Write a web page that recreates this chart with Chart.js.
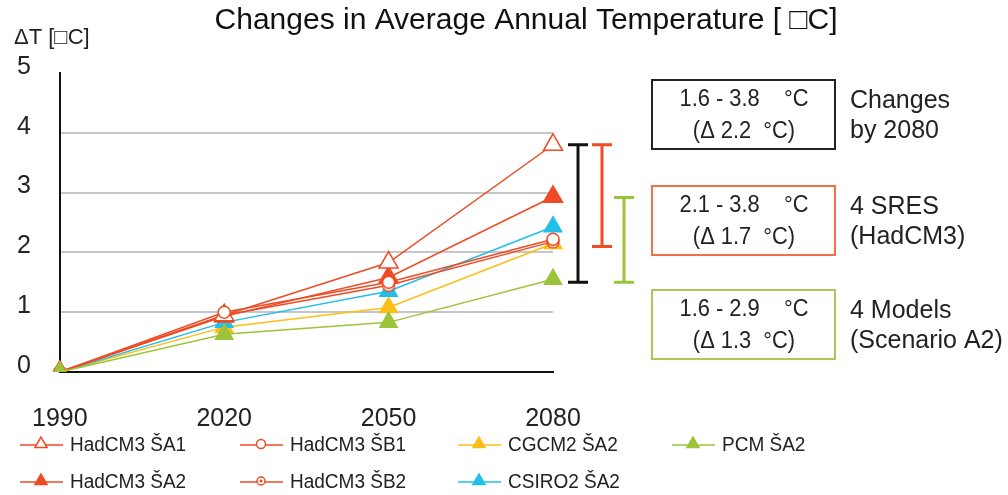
<!DOCTYPE html>
<html>
<head>
<meta charset="utf-8">
<script src="https://cdn.jsdelivr.net/npm/chart.js@4.4.0/dist/chart.umd.min.js"></script>
<style>
    html, body { margin: 0; padding: 0; background: #fff; }
</style>
</head>
<body>
<canvas id="myChart" width="1008" height="495"></canvas>
<script>
// data
const years = ['1990', '2020', '2050', '2080'];
const hadA1 = [0, 0.95, 1.83, 3.8];
const hadB1 = [0, 1.0, 1.5, 2.22];
const cgcmA2 = [0, 0.75, 1.08, 2.15];
const pcmA2 = [0, 0.63, 0.83, 1.55];
const hadA2 = [0, 0.93, 1.58, 2.93];
const hadB2 = [0, 0.95, 1.45, 2.18];
const csiroA2 = [0, 0.83, 1.35, 2.43];

const seriesNames = ['HadCM3 ŠA1', 'HadCM3 ŠB1', 'CGCM2 ŠA2', 'PCM ŠA2', 'HadCM3 ŠA2', 'HadCM3 ŠB2', 'CSIRO2 ŠA2'];
const yTicks = [0, 1, 2, 3, 4, 5];

// ranges by 2080
const rangeLow = [1.5, 2.1, 1.5];
const rangeHigh = [3.8, 3.8, 2.92];
const boxLine1 = ['1.6 - 3.8    °C', '2.1 - 3.8    °C', '1.6 - 2.9    °C'];
const boxLine2 = ['(Δ 2.2  °C)', '(Δ 1.7  °C)', '(Δ 1.3  °C)'];
const noteLine1 = ['Changes', '4 SRES', '4 Models'];
const noteLine2 = ['by 2080', '(HadCM3)', '(Scenario A2)'];

const RED = '#ef4b24';
const CYAN = '#22bfe8';
const YELLOW = '#fdbe15';
const GREEN = '#9bc43a';
const FONT = '"Liberation Sans", Arial, sans-serif';

Chart.defaults.font.family = FONT;

// circle with a dot in the middle
function dotCircle(r) {
    const c = document.createElement('canvas');
    c.width = c.height = r * 2 + 4;
    const g = c.getContext('2d');
    g.strokeStyle = RED;
    g.fillStyle = '#fff';
    g.lineWidth = 1.5;
    g.beginPath();
    g.arc(r + 2, r + 2, r, 0, Math.PI * 2);
    g.fill();
    g.stroke();
    g.fillStyle = RED;
    g.beginPath();
    g.arc(r + 2, r + 2, r * 0.4, 0, Math.PI * 2);
    g.fill();
    return c;
}
const b2Img = dotCircle(6);
const b2ImgSmall = dotCircle(4);

function ds(label, data, color, style, radius, fill, order) {
    return {
        label: label,
        data: data,
        borderColor: color,
        backgroundColor: fill,
        pointBackgroundColor: fill,
        pointBorderColor: color,
        pointStyle: style,
        pointRadius: radius,
        pointBorderWidth: 1.5,
        borderWidth: 1.5,
        tension: 0,
        order: order
    };
}

const datasets = [
    ds(seriesNames[0], hadA1, RED, 'triangle', 11, '#fff', 2),
    ds(seriesNames[1], hadB1, RED, 'circle', 6, '#fff', 1),
    ds(seriesNames[2], cgcmA2, YELLOW, 'triangle', 10, YELLOW, 6),
    ds(seriesNames[3], pcmA2, GREEN, 'triangle', 10, GREEN, 0),
    ds(seriesNames[4], hadA2, RED, 'triangle', 11, RED, 3),
    ds(seriesNames[5], hadB2, RED, b2Img, 6, '#fff', 4),
    ds(seriesNames[6], csiroA2, CYAN, 'triangle', 10, CYAN, 5)
];

function txt(ctx, s, x, y, size, align, color, sx) {
    ctx.save();
    ctx.font = size + 'px ' + FONT;
    ctx.fillStyle = color;
    ctx.textBaseline = 'middle';
    ctx.textAlign = align;
    ctx.translate(x, y);
    ctx.scale(sx || 1, 1);
    ctx.fillText(s, 0, 0);
    ctx.restore();
}

const extras = {
    id: 'extras',
    afterDraw(chart) {
        const ctx = chart.ctx;
        const y = chart.scales.y;

        txt(ctx, 'Changes in Average Annual Temperature [ \u25A1C]', 526, 21, 30, 'center', '#111');
        txt(ctx, 'ΔT [\u25A1C]', 14, 38, 22, 'left', '#222');

        // range bars
        const barX = [578, 602, 624];
        const barCol = ['#111', RED, GREEN];
        for (let i = 0; i < 3; i++) {
            const top = y.getPixelForValue(rangeHigh[i]);
            const bot = y.getPixelForValue(rangeLow[i]);
            ctx.save();
            ctx.strokeStyle = barCol[i];
            ctx.lineWidth = 3;
            ctx.beginPath();
            ctx.moveTo(barX[i], top); ctx.lineTo(barX[i], bot);
            ctx.moveTo(barX[i] - 10, top); ctx.lineTo(barX[i] + 10, top);
            ctx.moveTo(barX[i] - 10, bot); ctx.lineTo(barX[i] + 10, bot);
            ctx.stroke();
            ctx.restore();
        }

        // boxes with notes
        const boxTop = [80, 186, 290];
        const boxCol = ['#222', '#f07048', '#a9c85a'];
        for (let i = 0; i < 3; i++) {
            const t = boxTop[i], mid = t + 34.5;
            ctx.save();
            ctx.strokeStyle = boxCol[i];
            ctx.lineWidth = 2;
            ctx.strokeRect(652, t, 183, 69);
            ctx.restore();
            txt(ctx, boxLine1[i], 744, mid - 15, 23, 'center', '#222', 0.95);
            txt(ctx, boxLine2[i], 744, mid + 17, 23, 'center', '#222', 0.95);
            txt(ctx, noteLine1[i], 850, mid - 13, 25, 'left', '#222');
            txt(ctx, noteLine2[i], 850, mid + 17, 25, 'left', '#222');
        }

        // legend, 4 columns x 2 rows
        const colX = [20, 240, 458, 672];
        const rowY = [445, 482];
        chart.data.datasets.forEach((d, i) => {
            const x0 = colX[i % 4], yy = rowY[Math.floor(i / 4)];
            ctx.save();
            ctx.strokeStyle = d.borderColor;
            ctx.lineWidth = 1.5;
            ctx.beginPath();
            ctx.moveTo(x0, yy); ctx.lineTo(x0 + 43, yy);
            ctx.stroke();
            ctx.fillStyle = d.pointBackgroundColor;
            ctx.strokeStyle = d.borderColor;
            ctx.lineWidth = 1.5;
            let st = d.pointStyle;
            if (st === b2Img) st = b2ImgSmall;
            const r = d.pointStyle === 'triangle' ? 7 : 4.5;
            Chart.helpers.drawPoint(ctx, {pointStyle: st, radius: r, rotation: 0, borderWidth: 1.5}, x0 + 21, yy - 1);
            ctx.restore();
            txt(ctx, d.label, x0 + 50, yy, 20, 'left', '#222', 0.95);
        });
    }
};

new Chart(document.getElementById('myChart'), {
    type: 'line',
    data: {
        labels: years,
        datasets: datasets
    },
    options: {
        responsive: false,
        animation: false,
        layout: {
            padding: { left: 0, top: 73, right: 455, bottom: 0 }
        },
        plugins: {
            legend: { display: false },
            tooltip: { enabled: false },
            title: { display: false }
        },
        scales: {
            x: {
                offset: false,
                grid: { drawTicks: false, color: 'rgba(0,0,0,0)' },
                border: { color: '#111', width: 2 },
                ticks: { padding: 32, color: '#222', font: { size: 25 }, maxRotation: 0 },
                afterFit: s => { s.height = 123; }
            },
            y: {
                min: yTicks[0],
                max: yTicks[yTicks.length - 1],
                grid: {
                    drawTicks: false,
                    lineWidth: 2,
                    color: c => (c.tick && c.tick.value > 0 && c.tick.value < 5) ? '#c6c6c6' : 'rgba(0,0,0,0)'
                },
                border: { color: '#111', width: 2 },
                ticks: { stepSize: 1, padding: 29, color: '#222', font: { size: 25 }, labelOffset: -6 },
                afterFit: s => { s.width = 58; }
            }
        }
    },
    plugins: [extras]
});
</script>
</body>
</html>
